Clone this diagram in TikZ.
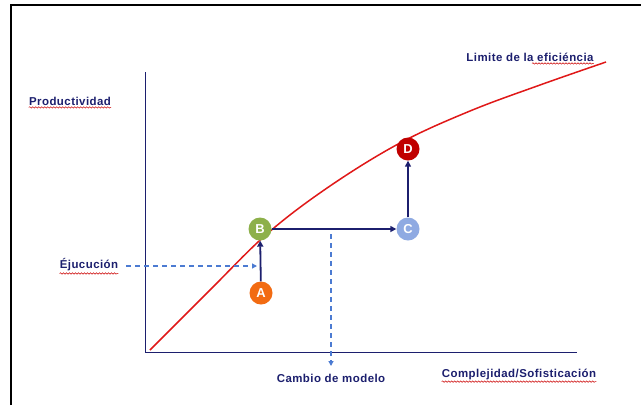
\documentclass[tikz,border=0pt]{standalone}
\usepackage{fontspec}
\setmainfont{Liberation Sans}
\newfontfamily\lblfont[LetterSpace=4]{Liberation Sans}
\usetikzlibrary{arrows.meta,decorations.pathmorphing}
\definecolor{navy}{HTML}{1C1F6E}
\definecolor{dashblue}{HTML}{4C7BD2}
\definecolor{curvered}{HTML}{E01818}
\definecolor{cA}{HTML}{F26B12}
\definecolor{cB}{HTML}{8DB04A}
\definecolor{cC}{HTML}{8FAAE2}
\definecolor{cD}{HTML}{C00000}
\tikzset{
  lbl/.style={text=navy,font=\lblfont\fontsize{11.5}{13}\selectfont\bfseries,inner sep=0pt},
  pt/.style={circle,minimum size=23bp,inner sep=0pt,text=white,font=\fontsize{13}{15}\selectfont\bfseries},
  flow/.style={navy,line width=1.8bp,-{Triangle[length=6bp,width=6bp]}},
  guide/.style={dashblue,line width=1.2bp,dash pattern=on 5bp off 4bp,-{Triangle[length=5bp,width=5bp]}},
  axis/.style={navy,line width=1bp},
  squig/.style={red!80!black,line width=0.5bp,decorate,decoration={snake,amplitude=0.7bp,segment length=3bp}}
}
\begin{document}
\begin{tikzpicture}[x=1bp,y=-1bp]
\useasboundingbox (0,0) rectangle (641,405);
\fill[white] (0,0) rectangle (641,405);
% frame
\draw[black,line width=2bp] (11,405) -- (11,5) -- (641,5);
% axes
\coordinate (o) at (145,352);
\coordinate (ytop) at (145,72);
\coordinate (xend) at (577,352);
\draw[axis] (ytop) -- (o) -- (xend);
% efficiency curve
\draw[curvered,line width=1.5bp] plot[smooth,tension=0.6] coordinates {(150,350) (210,290) (268,233) (330,186) (400,143) (470,111) (540,85) (606,62)};
% labels
\node[lbl] (prod) at (70,101) {Productividad};
\node[lbl] (ejec) at (89,265) {Éjucución};
\node[lbl] (camb) at (331,378) {Cambio de modelo};
\node[lbl] (comp) at (519,374) {Complejidad/Sofisticación};
\node[lbl] (lim) at (530,57) {Limite de la eficiéncia};
% spell underlines
\draw[squig] ([yshift=-2bp]prod.south west) -- ([yshift=-2bp]prod.south east);
\draw[squig] ([yshift=-2bp]ejec.south west) -- ([yshift=-2bp]ejec.south east);
\draw[squig] ([yshift=-2bp]comp.south west) -- ([yshift=-2bp]comp.south east);
\draw[squig] ([xshift=2bp,yshift=-2bp]lim.south) -- ([yshift=-2bp]lim.south east);
% points
\node[pt,fill=cA] (A) at (261,293) {A};
\node[pt,fill=cB] (B) at (260,229) {B};
\node[pt,fill=cC] (C) at (408,229) {C};
\node[pt,fill=cD] (D) at (408,149) {D};
% connectors
\draw[flow] (A) -- (B);
\draw[flow] (B) -- (C);
\draw[flow] (C) -- (D);
% guides
\coordinate (ejs) at (126,266);
\coordinate (ejt) at (257,266);
\draw[guide] (ejs) -- (ejt);
\coordinate (cs) at (331,234);
\coordinate (ct) at (331,366);
\draw[guide] (cs) -- (ct);
\end{tikzpicture}
\end{document}
